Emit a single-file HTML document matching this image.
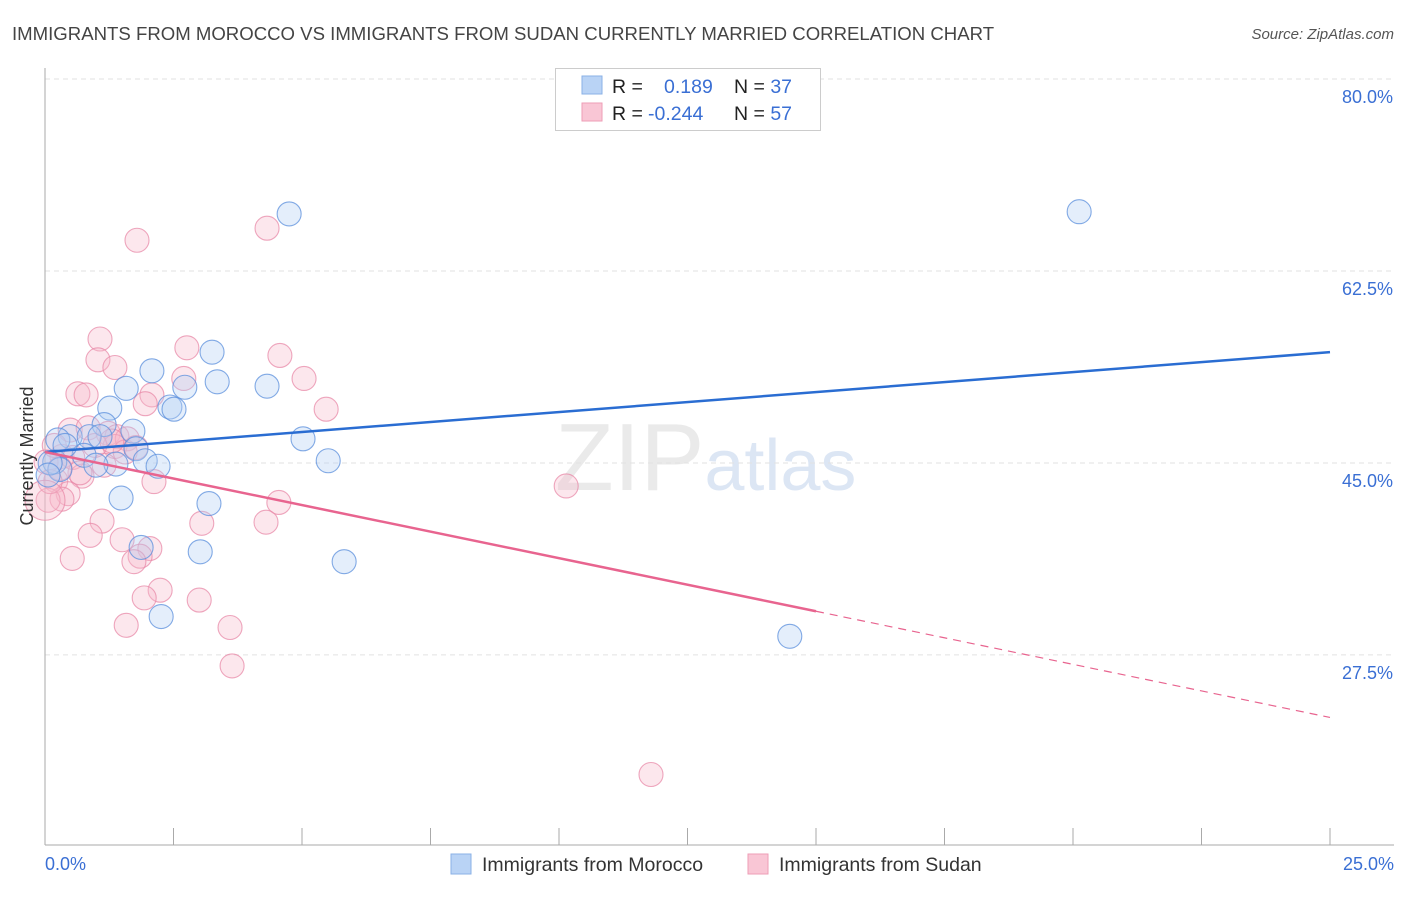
<!DOCTYPE html>
<html><head><meta charset="utf-8"><style>
body{margin:0;background:#fff;font-family:"Liberation Sans",sans-serif}
svg text{font-family:"Liberation Sans",sans-serif}
</style></head><body>
<svg id="chart" width="1406" height="892" xmlns="http://www.w3.org/2000/svg">
<text x="12" y="40" font-size="18.6" fill="#444">IMMIGRANTS FROM MOROCCO VS IMMIGRANTS FROM SUDAN CURRENTLY MARRIED CORRELATION CHART</text>
<text x="1394" y="39" font-size="15" fill="#555" text-anchor="end" font-style="italic">Source: ZipAtlas.com</text>
<text x="555" y="490" font-size="96" fill="#ddd" font-family="Liberation Serif" opacity="0.6">ZIP<tspan fill="#c6d6ee" font-family="Liberation Sans" font-size="72">atlas</tspan></text>
<g id="grid"></g>
<g id="axes"></g>
<g id="pts"></g>
<g id="trend"></g>
<text transform="translate(33,456) rotate(-90)" font-size="18" fill="#333" text-anchor="middle">Currently Married</text>
<text x="45" y="870" font-size="18" fill="#3a6fd4">0.0%</text>
<text x="1394" y="870" font-size="18" fill="#3a6fd4" text-anchor="end">25.0%</text>
<g>
<rect x="555.5" y="68.5" width="265" height="62" fill="#fff" stroke="#ccc"/>
<rect x="582" y="76" width="20" height="18" fill="#b9d3f5" stroke="#8ab0e6"/>
<rect x="582" y="103" width="20" height="18" fill="#f9c6d5" stroke="#ee9db6"/>
<text x="612" y="93" font-size="19.5" fill="#222">R = <tspan fill="#3a6fd4" x="664">0.189</tspan><tspan x="734" fill="#222">N = </tspan><tspan fill="#3a6fd4">37</tspan></text>
<text x="612" y="120" font-size="19.5" fill="#222">R = <tspan fill="#3a6fd4" x="648">-0.244</tspan><tspan x="734" fill="#222">N = </tspan><tspan fill="#3a6fd4">57</tspan></text>
</g>
<g>
<rect x="451" y="854" width="20" height="20" fill="#b9d3f5" stroke="#8ab0e6"/>
<text x="482" y="871" font-size="19.5" fill="#333">Immigrants from Morocco</text>
<rect x="748" y="854" width="20" height="20" fill="#f9c6d5" stroke="#ee9db6"/>
<text x="779" y="871" font-size="19.5" fill="#333">Immigrants from Sudan</text>
</g>
</svg>
<script>
const yTicks=[80,62.5,45,27.5];
const yTickLabels=["80.0%","62.5%","45.0%","27.5%"];
const moroccoX=[4.75,20.12,3.25,2.08,3.35,1.58,2.72,4.32,1.26,2.43,2.51,1.71,1.15,0.49,0.86,0.25,0.76,1.77,1.95,2.20,1.38,0.99,0.19,0.29,5.02,5.51,1.48,3.19,1.87,3.02,5.82,2.26,14.49,0.10,0.39,1.07,0.06];
const moroccoY=[67.7,67.9,55.1,53.4,52.4,51.8,51.9,52.0,50.0,50.1,49.9,47.9,48.5,47.4,47.4,47.1,45.7,46.3,45.2,44.7,44.9,44.8,45.1,44.4,47.2,45.2,41.8,41.3,37.3,36.9,36.0,31.0,29.2,45.0,46.6,47.4,43.9];
const sudanX=[1.79,4.32,1.07,2.76,1.03,4.57,1.36,2.70,5.04,0.64,0.80,2.08,1.95,5.47,0.49,0.84,1.23,1.40,1.60,1.36,0.33,0.54,1.15,0.72,0.21,0.45,0.33,0.06,2.12,4.55,1.11,3.05,4.30,0.88,1.50,2.04,0.53,1.85,1.73,2.24,1.93,3.00,1.58,3.60,3.64,10.14,11.79,0.02,0.18,0.68,0.97,1.56,0.29,0.10,1.30,1.77,0.0];
const sudanY=[65.3,66.4,56.3,55.5,54.4,54.8,53.7,52.7,52.7,51.3,51.2,51.2,50.4,49.9,48.0,48.2,47.7,47.4,47.2,46.5,45.6,45.5,44.8,43.8,43.4,42.2,41.7,41.6,43.3,41.4,39.7,39.5,39.6,38.4,38.0,37.2,36.3,36.5,36.0,33.4,32.7,32.5,30.2,30.0,26.5,42.9,16.6,45.1,46.6,44.1,46.6,46.0,44.5,43.3,47.0,46.4,41.6];
const moroccoTrend=[46.0,55.1];
const sudanTrend=[46.0,21.8];
const sudanSolidEnd=15;
const NS="http://www.w3.org/2000/svg";
const sx=v=>45+v*(1285/25);
const sy=v=>79+(80-v)*10.97;
function mk(t,a,p){const e=document.createElementNS(NS,t);for(const k in a)e.setAttribute(k,a[k]);p.appendChild(e);return e;}
const grid=document.getElementById('grid');
yTicks.forEach((t,i)=>{
  const l=mk('line',{x1:45,x2:1394,y1:sy(t),y2:sy(t),stroke:'#e2e2e2','stroke-dasharray':'5,4'},grid);
  
  
  const tx=mk('text',{x:1393,y:sy(t)+24,'font-size':18,fill:'#3a6fd4','text-anchor':'end'},grid);
  tx.textContent=yTickLabels[i];
  
  
});
const axes=document.getElementById('axes');
const ya=mk('line',{x1:45,x2:45,y1:68,y2:845,stroke:'#aaa'},axes);


const xa=mk('line',{x1:45,x2:1394,y1:845,y2:845,stroke:'#aaa'},axes);


for(let k=0;k<=10;k++){
  const x=sx(k*2.5);
  const tk=mk('line',{x1:x,x2:x,y1:828,y2:845,stroke:'#aaa'},axes);
  
  
}
const pts=document.getElementById('pts');
function drawPts(X,Y,fill,stroke,name){
  X.forEach((v,i)=>{
    const r=(v===0&&Y[i]<42)?20:12;
    const c=mk('circle',{cx:sx(v),cy:sy(Y[i]),r:r,fill:fill,'fill-opacity':0.35,stroke:stroke,'stroke-opacity':0.75,'stroke-width':1.1},pts);
    
    
  });
}
drawPts(sudanX,sudanY,'#f7b9cb','#e88aa8','sudan-point');
drawPts(moroccoX,moroccoY,'#b3cff3','#5b8fdc','morocco-point');
const tr=document.getElementById('trend');
const bl=mk('line',{x1:sx(0),y1:sy(moroccoTrend[0]),x2:sx(25),y2:sy(moroccoTrend[1]),stroke:'#2a6dd2','stroke-width':2.5},tr);


const ye=sudanTrend[0]+(sudanTrend[1]-sudanTrend[0])*sudanSolidEnd/25;
const pl=mk('line',{x1:sx(0),y1:sy(sudanTrend[0]),x2:sx(sudanSolidEnd),y2:sy(ye),stroke:'#e8648f','stroke-width':2.5},tr);


const pd=mk('line',{x1:sx(sudanSolidEnd),y1:sy(ye),x2:sx(25),y2:sy(sudanTrend[1]),stroke:'#e8648f','stroke-width':1.2,'stroke-dasharray':'8,6'},tr);


</script>
</body></html>
